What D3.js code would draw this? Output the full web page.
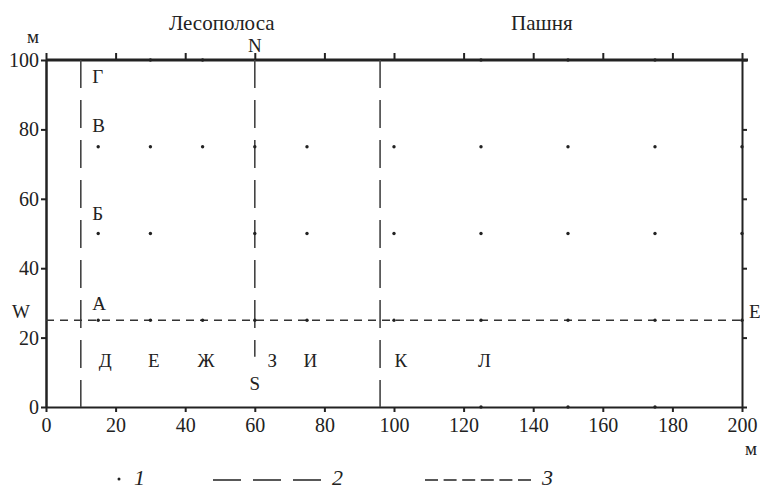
<!DOCTYPE html>
<html>
<head>
<meta charset="utf-8">
<script src="https://cdn.jsdelivr.net/npm/d3@7"></script>
<style>
  body { margin: 0; background: #fff; }
  svg { display: block; }
</style>
</head>
<body>
<svg id="chart"></svg>
<script>
// sampling points (type 1), by row, x in metres
const row100X = [30, 45, 125, 150, 175];
const row75X = [15, 30, 45, 60, 75, 100, 125, 150, 175, 200];
const row50X = [15, 30, 60, 75, 100, 125, 150, 175, 200];
const row25X = [15, 30, 45, 60, 75, 100, 125, 150, 175, 200];
const row0X = [125, 150, 175];
const rowY = [100, 75, 50, 25, 0];

// forest belt borders (type 2) and transect (type 3)
const beltX = [10, 60, 96];
const beltBottom = [0, 14.5, 0];
const transectY = 25;

// labels
const rowNames = ["Г", "В", "Б", "А"];
const rowNameY = [93.5, 79.3, 54, 28];
const colNames = ["Д", "Е", "Ж", "З", "И", "К", "Л"];
const colNameX = [17, 31, 46, 65, 76, 102, 126];
const colNameY = 11.5;
const zones = ["Лесополоса", "Пашня"];
const zoneX = [50.5, 142.5];

const xTicks = d3.range(0, 201, 20);
const yTicks = d3.range(0, 101, 20);
const legendItems = ["1", "2", "3"];

const FONT = "'Liberation Serif', 'Times New Roman', 'DejaVu Serif', serif";
const W = 760, H = 489;
const svg = d3.select("#chart").attr("width", W).attr("height", H)
    .attr("font-family", FONT);

const x = d3.scaleLinear().domain([0, 200]).range([46, 742]);
const y = d3.scaleLinear().domain([0, 100]).range([407, 60]);

// AXES
const gBottom = svg.append("g").attr("transform", `translate(0,${y(0)})`)
    .call(d3.axisBottom(x).tickValues(xTicks).tickSize(5).tickSizeOuter(0).tickPadding(6));
const gLeft = svg.append("g").attr("transform", `translate(${x(0)},0)`)
    .call(d3.axisLeft(y).tickValues(yTicks).tickSize(5).tickSizeOuter(0).tickPadding(2));
const gTop = svg.append("g").attr("transform", `translate(0,${y(100)})`)
    .call(d3.axisTop(x).tickValues(xTicks).tickSize(7).tickSizeOuter(0).tickFormat(""));
const gRight = svg.append("g").attr("transform", `translate(${x(200)},0)`)
    .call(d3.axisRight(y).tickValues(yTicks).tickSize(5).tickSizeOuter(0).tickFormat(""));

[gBottom, gLeft, gTop, gRight].forEach(g => {
    g.attr("font-family", FONT).attr("font-size", 20);
    g.selectAll("text").attr("fill", "#222");
    g.selectAll("line").attr("stroke", "#222").attr("stroke-width", 2);
    g.select(".domain").attr("stroke", "#222").attr("stroke-width", 2);
});
gTop.select(".domain").attr("stroke-width", 3).attr("d", `M${x(0)},0H${x(200) + 6}`);
gLeft.select(".domain").attr("stroke-width", 2.5);

// forest belt borders
svg.append("g").selectAll("line")
    .data(beltX)
    .join("line")
    .attr("x1", d => x(d)).attr("x2", d => x(d))
    .attr("y1", y(100)).attr("y2", (d, i) => y(beltBottom[i]))
    .attr("stroke", "#444")
    .attr("stroke-width", 1.6)
    .attr("stroke-dasharray", "28,12");

// transect W-E
svg.append("line")
    .attr("x1", x(0)).attr("x2", x(200))
    .attr("y1", y(transectY)).attr("y2", y(transectY))
    .attr("stroke", "#333")
    .attr("stroke-width", 1.3)
    .attr("stroke-dasharray", "8,6");

// points
const rows = [row100X, row75X, row50X, row25X, row0X];
const points = rows.flatMap((xs, i) => xs.map(v => ({ x: v, y: rowY[i] })));
svg.append("g").selectAll("circle")
    .data(points)
    .join("circle")
    .attr("cx", d => x(d.x))
    .attr("cy", d => y(d.y))
    .attr("r", 1.7)
    .attr("fill", "#222");

// text helper
function label(px, py, t, opts = {}) {
    return svg.append("text")
        .attr("x", px).attr("y", py)
        .attr("text-anchor", opts.anchor || "start")
        .attr("font-size", opts.size || 19)
        .attr("font-style", opts.italic ? "italic" : null)
        .attr("fill", "#222")
        .text(t);
}

rowNames.forEach((n, i) => label(x(13.3), y(rowNameY[i]), n));
colNames.forEach((n, i) => label(x(colNameX[i]), y(colNameY), n, { anchor: "middle" }));
zones.forEach((n, i) => label(x(zoneX[i]), 30, n, { anchor: "middle", size: 21 }));

label(x(60), 52, "N", { anchor: "middle" });
label(x(60), 390, "S", { anchor: "middle" });
label(12, 318, "W");
label(749, 318, "E");
label(33, 43, "м", { anchor: "middle" });
label(751, 455, "м", { anchor: "middle" });

// LEGEND
const legY = 480;
svg.append("circle").attr("cx", 119).attr("cy", legY - 1).attr("r", 1.5).attr("fill", "#222");
svg.append("line").attr("x1", 213).attr("x2", 322).attr("y1", legY).attr("y2", legY)
    .attr("stroke", "#222").attr("stroke-width", 1.3).attr("stroke-dasharray", "28,12");
svg.append("line").attr("x1", 425).attr("x2", 531).attr("y1", legY).attr("y2", legY)
    .attr("stroke", "#222").attr("stroke-width", 1.3).attr("stroke-dasharray", "13,5.6");
const legX = [134, 332, 542];
legendItems.forEach((t, i) => label(legX[i], 485, t, { italic: true, size: 22 }));
</script>
</body>
</html>
